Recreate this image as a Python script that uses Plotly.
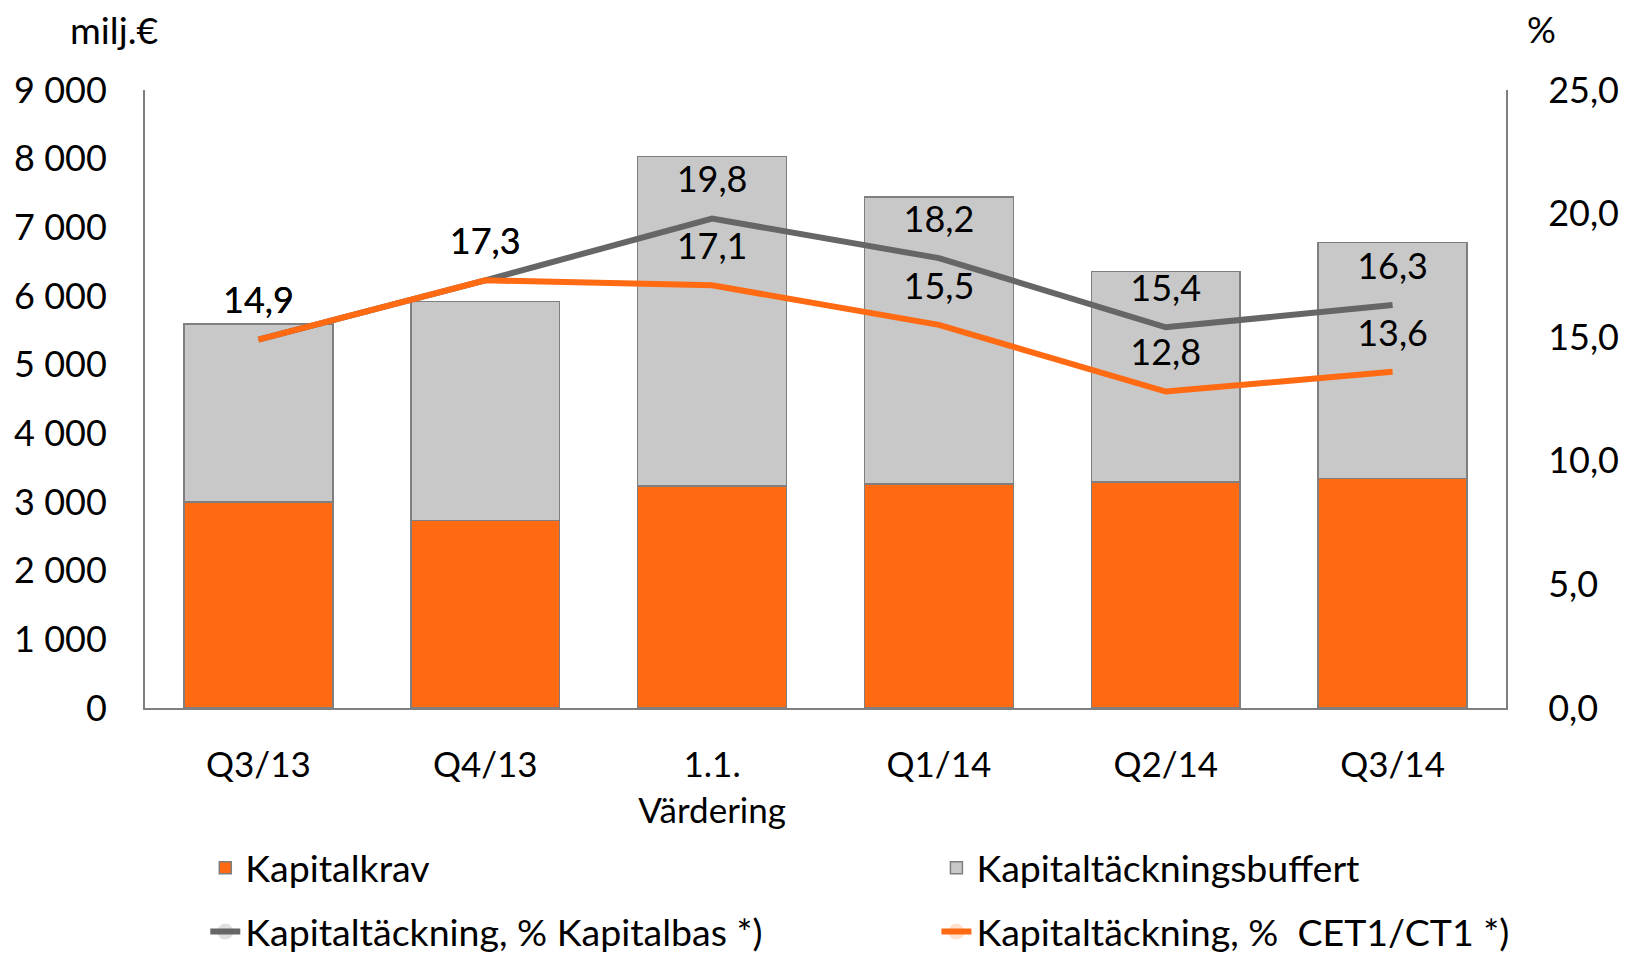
import plotly.graph_objects as go

categories = ["Q3/13", "Q4/13", "1.1.<br>Värdering", "Q1/14", "Q2/14", "Q3/14"]
kapitalkrav = [3000, 2730, 3230, 3260, 3290, 3340]
buffert = [2590, 3190, 4800, 4180, 3070, 3440]
pct_kapitalbas = [14.9, 17.3, 19.8, 18.2, 15.4, 16.3]
pct_cet1 = [14.9, 17.3, 17.1, 15.5, 12.8, 13.6]
left_ticks = [0, 1000, 2000, 3000, 4000, 5000, 6000, 7000, 8000, 9000]
right_ticks = [0, 5, 10, 15, 20, 25]

ORANGE = "#FF6A13"
GREY_FILL = "#C8C8C8"
GREY_LINE = "#666666"
EDGE = "#7F7F7F"
FONT = "Lato"

fig = go.Figure()
fig.add_trace(go.Bar(x=categories, y=kapitalkrav, name="Kapitalkrav",
                     marker=dict(color=ORANGE, line=dict(color=EDGE, width=1.5)),
                     legend="legend", legendgroup="a"))
fig.add_trace(go.Bar(x=categories, y=buffert, name="Kapitaltäckningsbuffert",
                     marker=dict(color=GREY_FILL, line=dict(color=EDGE, width=1.5)),
                     legend="legend2", legendgroup="b"))
fig.add_trace(go.Scatter(x=categories, y=pct_kapitalbas, yaxis="y2",
                         name="Kapitaltäckning, % Kapitalbas *)",
                         mode="lines+markers+text",
                         line=dict(color=GREY_LINE, width=6),
                         marker=dict(size=26, opacity=0, color=GREY_LINE),
                         text=[f"{v:.1f}".replace(".", ",") for v in pct_kapitalbas],
                         textposition="top center",
                         textfont=dict(family=FONT, size=36, color="#000000"),
                         legend="legend", legendgroup="c"))
fig.add_trace(go.Scatter(x=categories, y=pct_cet1, yaxis="y2",
                         name="Kapitaltäckning, %  CET1/CT1 *)",
                         mode="lines+markers+text",
                         line=dict(color=ORANGE, width=6),
                         marker=dict(size=26, opacity=0, color=ORANGE),
                         text=[f"{v:.1f}".replace(".", ",") for v in pct_cet1],
                         textposition="top center",
                         textfont=dict(family=FONT, size=36, color="#000000"),
                         legend="legend2", legendgroup="d"))

fig.update_layout(
    width=1632, height=953,
    barmode="stack", bargap=0.344,
    separators=", ",
    plot_bgcolor="white", paper_bgcolor="white",
    font=dict(family=FONT, size=36, color="#000000"),
    margin=dict(l=137, r=134, t=82, b=253, autoexpand=False),
    xaxis=dict(showline=True, linecolor=EDGE, linewidth=2, ticks="",
               tickfont=dict(size=35), ticklabelstandoff=25, automargin=False),
    yaxis=dict(range=[0, 9000], tickvals=left_ticks, tickformat=",.0f",
               showgrid=False, zeroline=False, showline=True, linecolor=EDGE,
               linewidth=2, ticks="", ticklabelstandoff=29, tickfont=dict(size=36),
               automargin=False),
    yaxis2=dict(range=[0, 25], tickvals=right_ticks, tickformat=".1f",
                overlaying="y", side="right", showgrid=False, zeroline=False,
                showline=True, linecolor=EDGE, linewidth=2, ticks="",
                ticklabelstandoff=33, tickfont=dict(size=36), automargin=False),
    legend=dict(x=0.0443, y=-0.2086, xanchor="left", yanchor="top",
                orientation="v", font=dict(size=37.5), tracegroupgap=12,
                traceorder="grouped", bgcolor="rgba(0,0,0,0)"),
    legend2=dict(x=0.5815, y=-0.2086, xanchor="left", yanchor="top",
                 orientation="v", font=dict(size=37.5), tracegroupgap=12,
                 traceorder="grouped", bgcolor="rgba(0,0,0,0)"),
    annotations=[
        dict(text="milj.€", xref="paper", yref="paper", x=-0.0565, y=1.098,
             xanchor="left", yanchor="middle", showarrow=False, font=dict(size=37.5)),
        dict(text="%", xref="paper", yref="paper", x=1.014, y=1.0987,
             xanchor="left", yanchor="middle", showarrow=False, font=dict(size=36)),
    ],
)

fig.write_html("out.html")
